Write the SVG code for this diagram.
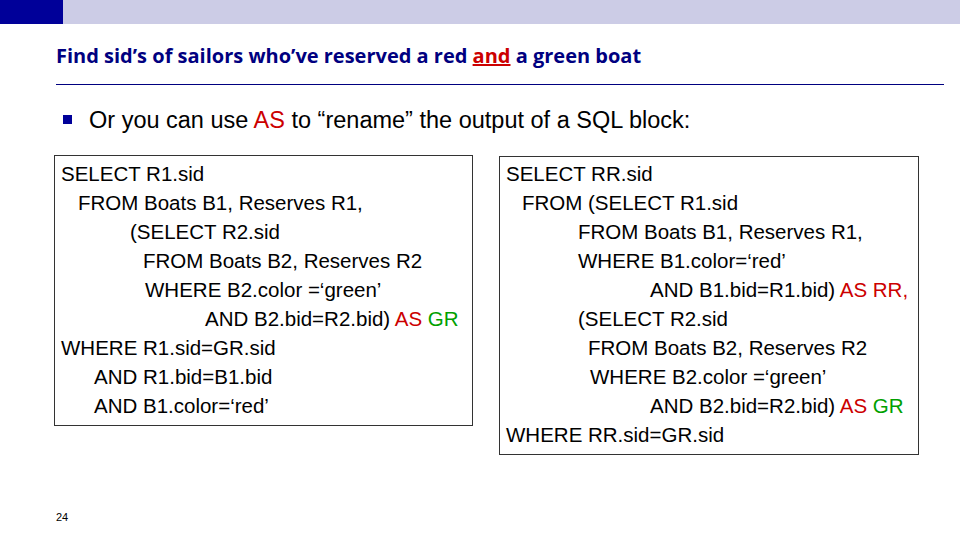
<svg xmlns="http://www.w3.org/2000/svg" width="960" height="540" viewBox="0 0 960 540">
<style>
.t{font-family:"Open Sans","Liberation Sans",sans-serif;font-weight:bold;font-size:20px;fill:#000080}
.c{font-family:"Liberation Sans",sans-serif;font-size:20.5px;fill:#000}
.b{font-family:"Liberation Sans",sans-serif;font-size:23.5px;fill:#000}
.r{fill:#CC0000}.g{fill:#00A000}
.box{fill:#fff;stroke:#333;stroke-width:1}
</style>
<rect x="0" y="0" width="960" height="24" fill="#CCCCE6"/>
<rect x="0" y="0" width="63" height="24" fill="#000099"/>
<text class="t" x="56" y="63">Find sid’s of sailors who’ve reserved a red <tspan class="r" text-decoration="underline">and</tspan> a green boat</text>
<line x1="56" y1="84.5" x2="944" y2="84.5" stroke="#000080" stroke-width="1"/>
<rect x="63" y="115" width="9" height="9" fill="#000099"/>
<text class="b" x="89" y="128">Or you can use <tspan class="r">AS</tspan> to “rename” the output of a SQL block:</text>
<g id="left">
<rect class="box" x="54.5" y="155.5" width="418" height="270"/>
<text class="c" x="61" y="181">SELECT R1.sid</text>
<text class="c" x="78" y="210">FROM Boats B1, Reserves R1,</text>
<text class="c" x="130" y="239">(SELECT R2.sid</text>
<text class="c" x="143" y="268">FROM Boats B2, Reserves R2</text>
<text class="c" x="145" y="297">WHERE B2.color =‘green’</text>
<text class="c" x="205" y="326">AND B2.bid=R2.bid) <tspan class="r">AS</tspan> <tspan class="g">GR</tspan></text>
<text class="c" x="61" y="355">WHERE R1.sid=GR.sid</text>
<text class="c" x="94" y="384">AND R1.bid=B1.bid</text>
<text class="c" x="94" y="413">AND B1.color=‘red’</text>
</g>
<g id="right">
<rect class="box" x="499.5" y="156.5" width="419" height="298"/>
<text class="c" x="506" y="181">SELECT RR.sid</text>
<text class="c" x="522" y="210">FROM (SELECT R1.sid</text>
<text class="c" x="578" y="239">FROM Boats B1, Reserves R1,</text>
<text class="c" x="578" y="268">WHERE B1.color=‘red’</text>
<text class="c" x="650" y="297">AND B1.bid=R1.bid) <tspan class="r">AS RR,</tspan></text>
<text class="c" x="578" y="326">(SELECT R2.sid</text>
<text class="c" x="588" y="355">FROM Boats B2, Reserves R2</text>
<text class="c" x="590" y="384">WHERE B2.color =‘green’</text>
<text class="c" x="650" y="413">AND B2.bid=R2.bid) <tspan class="r">AS</tspan> <tspan class="g">GR</tspan></text>
<text class="c" x="506" y="442">WHERE RR.sid=GR.sid</text>
</g>
<text x="56" y="521" font-family="Liberation Sans,sans-serif" font-size="11" fill="#000">24</text>
</svg>
